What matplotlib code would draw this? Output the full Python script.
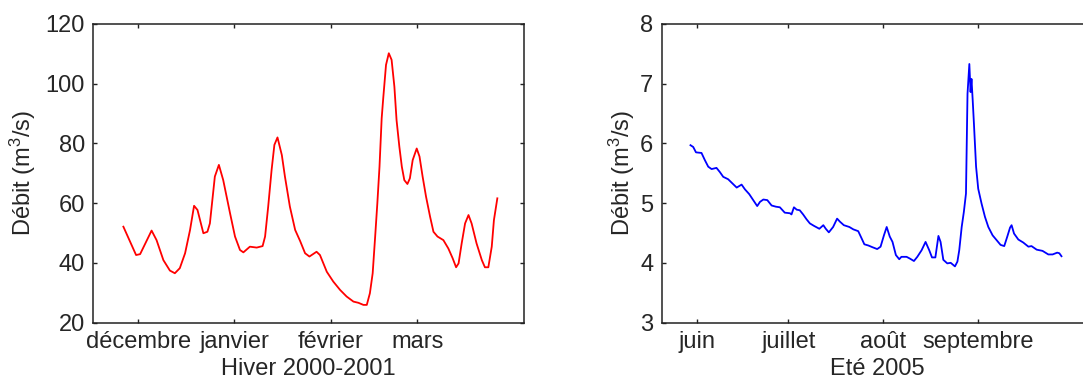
import matplotlib
matplotlib.use("Agg")
import matplotlib.pyplot as plt

plt.rcParams["font.family"] = ["Liberation Sans", "DejaVu Sans"]
plt.rcParams["mathtext.fontset"] = "custom"
plt.rcParams["mathtext.rm"] = "Liberation Sans"
plt.rcParams["mathtext.it"] = "Liberation Sans:italic"

# Hiver 2000-2001 : jours comptés depuis le 1er décembre, débit en m3/s
hiver_jour = [-4.8, -0.7, 0.6, 4.3, 5.9, 8.1, 10.2, 11.8, 13.4, 15.1, 16.7, 18.0,
              19.1, 21.0, 22.3, 23.1, 24.7, 26.0, 27.4, 29.6, 31.2, 32.8, 33.9,
              36.0, 38.2, 40.1, 40.9, 41.9, 43.0, 43.9, 44.9, 46.3, 47.3, 48.9,
              50.6, 52.2, 53.8, 55.2, 57.5, 58.6, 60.8, 62.9, 65.1, 67.2, 69.4,
              71.0, 72.6, 73.7, 74.7, 75.6, 76.4, 77.1, 77.8, 78.5, 79.0, 79.9,
              80.8, 81.7, 82.6, 83.3, 84.2, 85.0, 85.8, 86.8, 87.6, 88.5, 89.8,
              90.7, 91.7, 92.8, 94.1, 95.2, 96.5, 98.4, 100.0, 101.4, 102.5,
              103.3, 104.3, 105.4, 106.5, 107.5, 109.1, 110.8, 111.8, 112.9,
              114.0, 114.7, 115.8]
hiver_debit = [52.1, 42.6, 42.9, 50.8, 47.6, 40.9, 37.4, 36.5, 38.2, 43.2, 51.0, 59.1,
               57.7, 49.9, 50.4, 53.2, 68.9, 72.8, 67.7, 56.6, 48.8, 44.3, 43.5,
               45.4, 45.1, 45.6, 48.8, 58.8, 71.1, 79.5, 82.0, 76.1, 68.9, 58.8,
               51.0, 47.3, 43.2, 42.1, 43.7, 42.6, 37.0, 33.7, 30.9, 28.7, 27.0,
               26.6, 25.9, 25.9, 29.8, 36.5, 48.8, 59.9, 72.2, 88.4, 95.1, 106.3,
               110.2, 108.0, 99.0, 87.8, 78.9, 72.2, 67.7, 66.4, 68.3, 74.4, 78.3,
               75.6, 68.9, 62.2, 55.5, 50.4, 48.8, 47.6, 44.8, 41.5, 38.5,
               39.8, 46.5, 53.2, 56.0, 53.2, 46.5, 40.9, 38.5, 38.5,
               45.4, 54.3, 61.6]
hiver_mois = ["décembre", "janvier", "février", "mars"]
hiver_mois_jour = [0, 31, 62, 90]

# Eté 2005 : jours comptés depuis le 1er juin, débit en m3/s
ete_jour = [-2.0, -1.1, -0.2, 1.6, 2.7, 3.8, 4.9, 6.5, 7.6, 8.7, 10.3, 11.7, 13.1,
            14.7, 15.8, 17.2, 18.5, 19.8, 20.7, 21.8, 23.1, 24.5, 25.9, 27.2,
            28.8, 30.5, 31.0, 31.8, 32.7, 33.7, 34.8, 35.9, 37.0, 38.3, 40.1,
            41.4, 42.2, 43.2, 44.6, 45.9, 46.8, 48.1, 49.9, 51.2, 52.8, 53.9,
            54.8, 56.1, 57.5, 59.0, 60.1, 61.2, 62.1, 63.1, 64.0, 65.1, 66.2,
            66.9, 68.6, 69.7, 71.0, 72.1, 73.5, 74.8, 76.0, 76.9, 78.0, 79.0,
            79.7, 80.6, 81.9, 83.0, 84.4, 85.2, 85.8, 86.6, 87.3, 88.0, 88.2,
            88.5, 89.1, 89.5, 89.8, 90.2, 90.6, 91.3, 92.0, 93.1, 94.2, 95.3,
            96.7, 98.0, 99.3, 100.5, 101.5, 102.4, 102.9, 103.7, 105.1, 106.7,
            108.4, 109.4, 111.1, 113.0, 114.9, 116.3, 117.8, 118.5, 119.2]
ete_debit = [5.97, 5.94, 5.85, 5.84, 5.72, 5.61, 5.57, 5.59, 5.52, 5.44, 5.40, 5.33,
             5.26, 5.31, 5.23, 5.15, 5.05, 4.95, 5.02, 5.06, 5.05, 4.96, 4.94,
             4.93, 4.84, 4.83, 4.81, 4.93, 4.89, 4.88, 4.81, 4.73, 4.66, 4.62,
             4.57, 4.63, 4.57, 4.51, 4.60, 4.74, 4.69, 4.63, 4.60, 4.56, 4.53,
             4.41, 4.31, 4.29, 4.26, 4.23, 4.27, 4.46, 4.60, 4.44, 4.35, 4.13,
             4.06, 4.10, 4.10, 4.07, 4.03, 4.10, 4.21, 4.35, 4.21, 4.09, 4.09,
             4.45, 4.35, 4.05, 3.99, 4.00, 3.94, 4.02, 4.21, 4.60, 4.85, 5.16,
             5.83, 6.83, 7.33, 6.86, 7.08, 6.72, 6.33, 5.61, 5.24, 4.99, 4.77,
             4.60, 4.46, 4.38, 4.30, 4.28, 4.44, 4.59, 4.63, 4.49, 4.39, 4.34,
             4.27, 4.28, 4.22, 4.20, 4.14, 4.14, 4.17, 4.16, 4.11]
ete_mois = ["juin", "juillet", "août", "septembre"]
ete_mois_jour = [0, 30, 61, 92]

TXT = "#262626"
FS = 17
YLABEL = r"Débit (m$^{3}$/s)"

fig = plt.figure(figsize=(10.83, 3.81), dpi=100)
W, H = 1083.0, 381.0
ax_w, ax_h = 430.7 / W, 298.5 / H
ax_y = (H - 322.5) / H
ax1 = fig.add_axes([93.3 / W, ax_y, ax_w, ax_h])
ax2 = fig.add_axes([661.7 / W, ax_y, ax_w, ax_h])


def style(ax):
    for sp in ax.spines.values():
        sp.set_color("#222222")
        sp.set_linewidth(1.1)
    ax.tick_params(direction="in", length=3, width=1.0, color="#222222",
                   top=True, right=True, labelsize=FS, labelcolor=TXT, pad=6)


ax1.plot(hiver_jour, hiver_debit, color="#ff0000", lw=1.3)
ax1.set_xlim(-14.5, 124.4)
ax1.set_ylim(20, 120)
ax1.set_yticks([20, 40, 60, 80, 100, 120])
ax1.set_xticks(hiver_mois_jour)
ax1.set_xticklabels(hiver_mois)
style(ax1)
ax1.set_xlabel("Hiver 2000-2001", fontsize=FS, color=TXT, labelpad=3.5)
ax1.set_ylabel(YLABEL, fontsize=FS, color=TXT)
ax1.yaxis.set_label_coords(-0.128, 0.5)

ax2.plot(ete_jour, ete_debit, color="#0000ff", lw=1.3)
ax2.set_xlim(-11.4, 129.3)
ax2.set_ylim(3, 8)
ax2.set_yticks([3, 4, 5, 6, 7, 8])
ax2.set_xticks(ete_mois_jour)
ax2.set_xticklabels(ete_mois)
style(ax2)
ax2.set_xlabel("Eté 2005", fontsize=FS, color=TXT, labelpad=3.5)
ax2.set_ylabel(YLABEL, fontsize=FS, color=TXT)
ax2.yaxis.set_label_coords(-0.058, 0.5)

fig.savefig("out.png", dpi=100, facecolor="white")
